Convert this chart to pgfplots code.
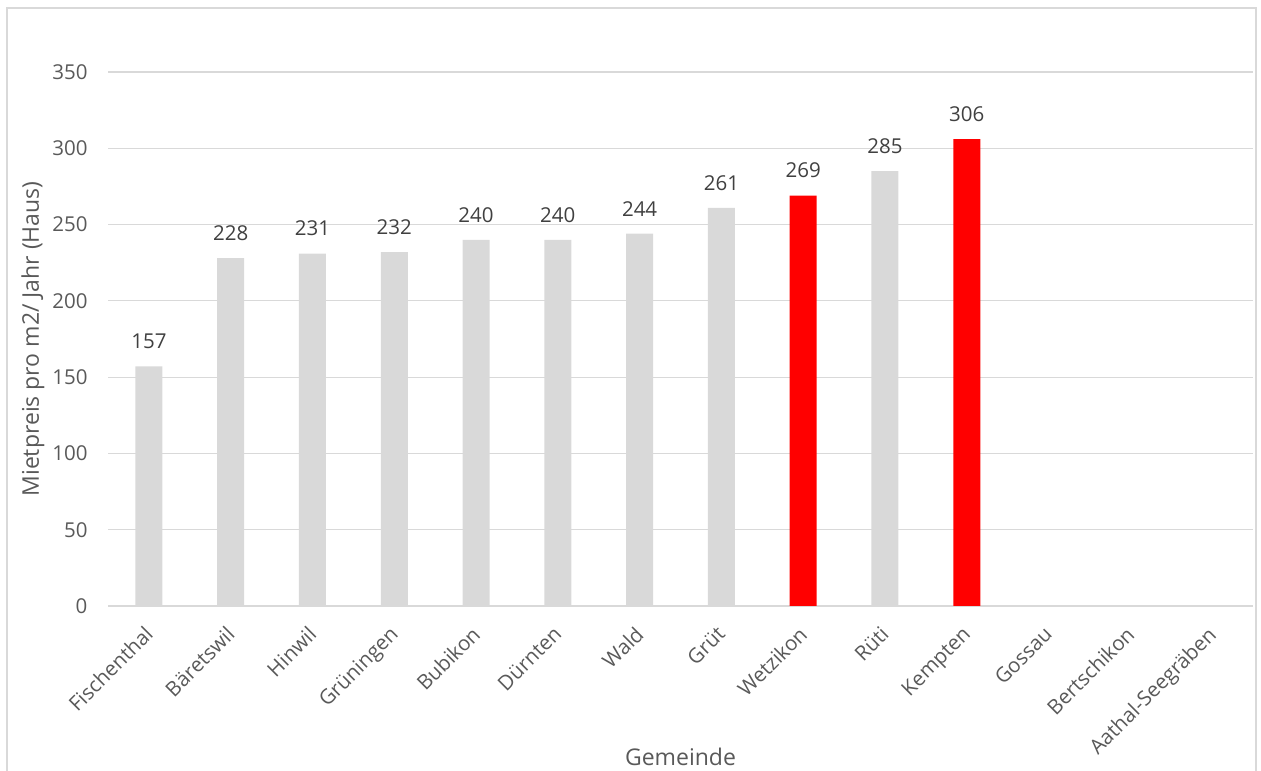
\documentclass[border=0pt]{standalone}
\usepackage{pgfplots}
\pgfplotsset{compat=1.18}
\usepackage{fontspec}
\setmainfont{Open Sans}
\definecolor{bargray}{HTML}{D9D9D9}
\definecolor{barred}{HTML}{FF0000}
\definecolor{gridgray}{HTML}{D9D9D9}
\definecolor{labelgray}{HTML}{595959}
\definecolor{valgray}{HTML}{404040}
\begin{document}
\begin{tikzpicture}[x=1pt,y=1pt]
\useasboundingbox (0,0) rectangle (1261,771);
% chart frame
\draw[gridgray, line width=1.5pt] (7,0) -- (7,763) -- (1256,763) -- (1256,0);
\begin{axis}[
  at={(108pt,165pt)}, anchor=south west,
  scale only axis,
  width=1145pt, height=534pt,
  xmin=-0.5, xmax=13.5,
  ymin=0, ymax=350,
  ytick={0,50,...,350},
  xtick={0,...,13},
  xticklabels={Fischenthal,Bäretswil,Hinwil,Grüningen,Bubikon,Dürnten,Wald,Grüt,Wetzikon,Rüti,Kempten,Gossau,Bertschikon,Aathal-Seegräben},
  /pgf/number format/assume math mode=true,
  major tick length=0pt,
  axis line style={draw=none},
  ymajorgrids,
  grid style={gridgray, line width=1.2pt},
  tick label style={labelgray, font=\fontsize{20.5}{24}\selectfont},
  yticklabel style={xshift=-17pt},
  xticklabel style={rotate=45, anchor=north east, xshift=-14pt, yshift=-6pt},
  ylabel={Mietpreis pro m2/ Jahr (Haus)},
  xlabel={Gemeinde},
  label style={labelgray, font=\fontsize{23}{27}\selectfont},
  ylabel style={at={(axis description cs:-0.0655,0.5)}, anchor=center},
  xlabel style={at={(axis description cs:0.5,-0.2828)}, anchor=center},
  ybar, bar width=27pt, bar shift=0pt,
  nodes near coords,
  every node near coord/.append style={valgray, font=\fontsize{20.5}{24}\selectfont, yshift=14pt},
  clip=false,
]
% baseline at zero
\draw[gridgray, line width=1.5pt] (axis cs:-0.5,0) -- (axis cs:13.5,0);
\addplot[fill=bargray, draw=none] coordinates {
  (0,157) (1,228) (2,231) (3,232) (4,240) (5,240) (6,244) (7,261) (9,285)
};
\addplot[fill=barred, draw=none] coordinates {
  (8,269) (10,306)
};
\end{axis}
\end{tikzpicture}
\end{document}
